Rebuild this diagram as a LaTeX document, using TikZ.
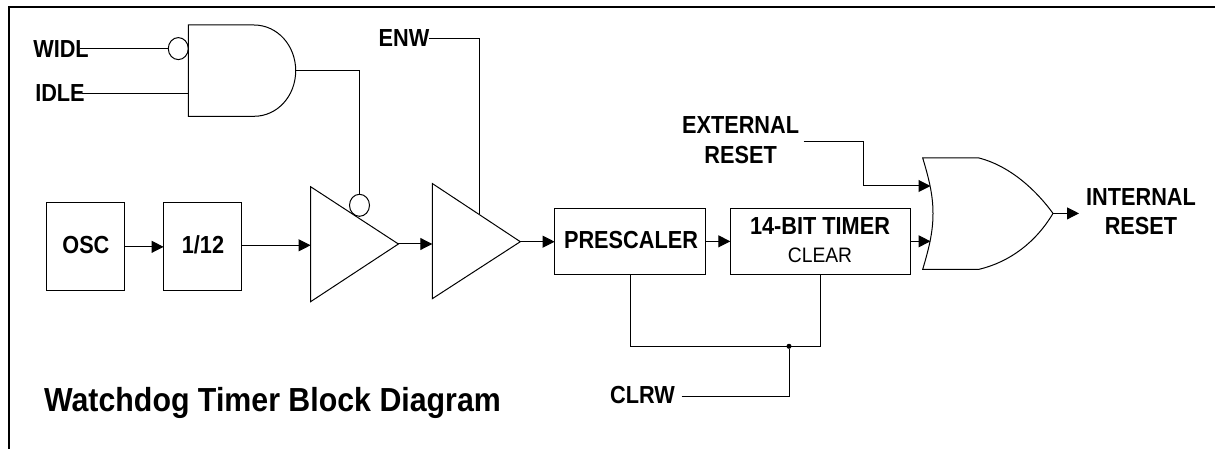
\documentclass[tikz,border=0pt]{standalone}
\usepackage{fontspec}
\setmainfont{Liberation Sans}
\newfontfamily\labfont[FakeStretch=0.88]{Liberation Sans}
\newfontfamily\subfont[FakeStretch=0.92]{Liberation Sans}
\newfontfamily\ttlfont[FakeStretch=0.91]{Liberation Sans}
\usetikzlibrary{arrows.meta,shapes.geometric}
\tikzset{
  wire/.style={line width=0.75pt,line join=miter},
  arr/.style={wire,-{Triangle[length=9pt,width=9pt]}},
  gate/.style={line width=0.75pt,line join=miter},
  blk/.style={draw,line width=0.75pt,rectangle,inner sep=0pt,outer sep=0pt},
  lab/.style={inner sep=0pt,outer sep=0pt,font=\labfont\bfseries\fontsize{18.5}{20}\selectfont},
  sublab/.style={inner sep=0pt,outer sep=0pt,font=\subfont\fontsize{15.7}{17}\selectfont},
  ttl/.style={inner sep=0pt,outer sep=0pt,font=\ttlfont\bfseries\fontsize{25}{28}\selectfont},
  bub/.style={draw,ellipse,line width=0.75pt,inner sep=0pt,outer sep=0pt,minimum width=15pt,minimum height=16.5pt},
  jdot/.style={fill,circle,inner sep=0pt,outer sep=0pt,minimum size=3.8pt}
}
\begin{document}
\begin{tikzpicture}[x=0.75pt,y=-0.75pt]
\useasboundingbox (0,0) rectangle (1215,449);
% frame
\draw[line width=1.6pt] (8.7,449) -- (8.7,6.7) -- (1215,6.7);
% gates
\draw[gate] (188.3,25) -- (254,25) .. controls (277.4,25) and (295.7,45.5) .. (295.7,70.7)
  .. controls (295.7,96) and (277.4,116.3) .. (254,116.3) -- (188.3,116.3) -- cycle;
\draw[gate] (310.6,186.7) -- (398.4,244) -- (310.6,301.7) -- cycle;
\draw[gate] (432.3,183.5) -- (520.3,241.7) -- (432.3,298.7) -- cycle;
\draw[gate] (922.7,158) -- (979,158) .. controls (1010,166) and (1036,190) .. (1053,213.4)
  .. controls (1036,242) and (1010,262) .. (979,269.3) -- (922.7,269.3)
  .. controls (930,245) and (933,230) .. (933,213.5) .. controls (933,197) and (930,182) .. (922.7,158) -- cycle;
% pins
\coordinate (andA) at (188.3,94);
\coordinate (andOut) at (295.7,70.7);
\coordinate (t1in) at (310.6,245.3);
\coordinate (t1out) at (398.4,244);
\coordinate (t2in) at (432.3,244);
\coordinate (t2out) at (520.3,241.7);
\coordinate (t2en) at (479,214);
\coordinate (orA) at (930.5,186);
\coordinate (orB) at (930.5,241.3);
\coordinate (orOut) at (1053,213.4);
\coordinate (outEnd) at (1079,213.4);
\coordinate (preIn) at (554.6,241.7);
\coordinate (timOut) at (910.6,241.3);
\coordinate (extStart) at (803.5,141.3);
\coordinate (clrwStart) at (681.6,396.3);
\coordinate (widlStart) at (80,48.3);
\coordinate (idleStart) at (82,94);
\coordinate (enwStart) at (429,39);
% bubbles
\node[bub] (b1) at (178.3,48.6) {};
\node[bub] (b2) at (359.5,205.3) {};
% boxes
\node[blk,minimum width=58.6pt,minimum height=66.2pt] (osc) at (85.6,246.85) {};
\node[blk,minimum width=58.6pt,minimum height=66.2pt] (div) at (202.65,246.85) {};
\node[blk,minimum width=113.3pt,minimum height=50pt] (pre) at (630.15,241.35) {};
\node[blk,minimum width=135.2pt,minimum height=50pt] (tim) at (820.45,241.35) {};
% labels
\node[lab] (tOsc) at (85.9,245) {OSC};
\node[lab] (tDiv) at (203,245) {1/12};
\node[lab] (tPre) at (631,240) {PRESCALER};
\node[lab] (tTim) at (820,226) {14-BIT TIMER};
\node[sublab] (tClr) at (820,255) {CLEAR};
\node[lab] (tWidl) at (61,49) {WIDL};
\node[lab] (tIdle) at (60,93) {IDLE};
\node[lab] (tEnw) at (404,38) {ENW};
\node[lab] (tExt) at (740.6,125) {EXTERNAL};
\node[lab] (tRst) at (740.6,155) {RESET};
\node[lab] (tInt) at (1141,197) {INTERNAL};
\node[lab] (tRs2) at (1141,226) {RESET};
\node[lab] (tClrw) at (642.5,395) {CLRW};
\node[ttl] (title) at (272.5,403) {Watchdog Timer Block Diagram};
% connectors
\draw[wire] (widlStart) -- (b1.west |- widlStart);
\draw[wire] (idleStart) -- (andA);
\draw[wire] (andOut) -| (b2.north);
\draw[wire] (enwStart) -| (t2en);
\draw[arr] (osc.east) -- (div.west);
\draw[arr] (div.east |- t1in) -- (t1in);
\draw[arr] (t1out) -- (t2in);
\draw[arr] (t2out) -- (preIn);
\draw[arr] (pre.east |- tim.west) -- (tim.west);
\draw[arr] (timOut) -- (orB);
\draw[wire] (extStart) -| (863.3,186);
\draw[arr] (863.3,186) -- (orA);
\draw[arr] (orOut) -- (outEnd);
\coordinate (busY) at (789,346.3);
\draw[wire] (pre.south) |- (busY) -| (tim.south);
\node[jdot] (junc) at (busY) {};
\draw[wire] (clrwStart) -| (junc);
\end{tikzpicture}
\end{document}
